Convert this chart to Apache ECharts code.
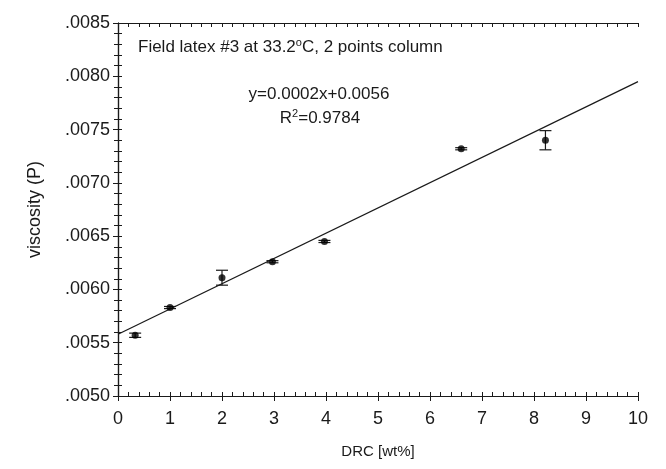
<!DOCTYPE html>
<html>
<head>
<meta charset="utf-8">
<script src="https://cdn.jsdelivr.net/npm/echarts@6/dist/echarts.min.js"></script>
<style>
  html, body { margin: 0; padding: 0; background: #fff; }
  #chart { width: 666px; height: 469px; }
</style>
</head>
<body>
<div id="chart"></div>
<script>
// viscosity vs DRC, field latex #3 — points with error bars plus fitted line

const drc = [0.33, 1.0, 2.0, 2.97, 3.97, 6.6, 8.22]
const viscosity = [0.00557, 0.00583, 0.00611, 0.00626, 0.00645, 0.00732, 0.0074]
const errLow = [0.00555, 0.00582, 0.00604, 0.00625, 0.00644, 0.00731, 0.00731]
const errHigh = [0.00559, 0.00584, 0.00618, 0.00627, 0.00646, 0.00733, 0.00749]
const fitX = [0, 10]
const fitY = [0.00558, 0.00795]

const FONT = 'Liberation Sans, Arial, sans-serif'
const INK = '#1a1a1a'

const chart = echarts.init(document.getElementById('chart'))

const yFmt = (v) => v.toFixed(4).replace(/^0/, '')

const grid = { left: 118, right: 28, top: 23, bottom: 73 }

const baseX = { type: 'value', min: 0, max: 10, interval: 1, splitLine: { show: false } }
const baseY = { type: 'value', min: 0.005, max: 0.0085, interval: 0.0005, splitLine: { show: false } }
const line = { show: true, lineStyle: { color: INK, width: 1.2 } }
const innerTicks = {
  axisLine: { show: false },
  axisLabel: { show: false },
  axisTick: { show: true, inside: true, length: 4, lineStyle: { color: INK } },
  minorTick: { show: true, splitNumber: 5, length: 4, lineStyle: { color: INK } },
}

chart.setOption({
  animation: false,
  backgroundColor: '#fff',
  grid,
  xAxis: [
    {
      ...baseX,
      position: 'bottom',
      axisLine: line,
      axisTick: { show: true, inside: false, length: 5, lineStyle: { color: INK } },
      axisLabel: { color: INK, fontFamily: FONT, fontSize: 18, margin: 14 },
      name: 'DRC [wt%]',
      nameLocation: 'middle',
      nameGap: 48,
      nameTextStyle: { color: INK, fontFamily: FONT, fontSize: 15 },
    },
    { ...baseX, position: 'bottom', ...innerTicks },
    { ...baseX, position: 'top', ...innerTicks, axisLine: line },
  ],
  yAxis: [
    {
      ...baseY,
      position: 'left',
      axisLine: line,
      axisTick: { show: true, inside: false, length: 5, lineStyle: { color: INK } },
      axisLabel: { color: INK, fontFamily: FONT, fontSize: 18, margin: 8, formatter: yFmt },
      name: 'viscosity (P)',
      nameLocation: 'middle',
      nameGap: 74,
      nameTextStyle: { color: INK, fontFamily: FONT, fontSize: 18 },
    },
    { ...baseY, position: 'left', ...innerTicks },
    { ...baseY, position: 'right', ...innerTicks, axisLine: line },
  ],
  graphic: [
    {
      type: 'text',
      left: 138,
      top: 37,
      style: {
        text: 'Field latex #3 at 33.2{sup|o}C, 2 points column',
        fill: INK,
        font: '17px ' + FONT,
        rich: { sup: { fontSize: 11, verticalAlign: 'top', padding: [0, 0, 9, 0], fill: INK } },
      },
    },
    {
      type: 'text',
      x: 319,
      y: 94,
      style: {
        text: 'y=0.0002x+0.0056',
        fill: INK,
        font: '17px ' + FONT,
        align: 'center',
        verticalAlign: 'middle',
      },
    },
    {
      type: 'text',
      x: 320,
      y: 118,
      style: {
        text: 'R{sup|2}=0.9784',
        fill: INK,
        font: '17px ' + FONT,
        align: 'center',
        verticalAlign: 'middle',
        rich: { sup: { fontSize: 11, padding: [0, 0, 9, 0], fill: INK } },
      },
    },
  ],
  series: [
    {
      type: 'line',
      data: fitX.map((x, i) => [x, fitY[i]]),
      symbol: 'none',
      lineStyle: { color: INK, width: 1.2 },
      z: 2,
    },
    {
      type: 'custom',
      data: drc.map((x, i) => [x, errLow[i], errHigh[i]]),
      renderItem(params, api) {
        const lo = api.coord([api.value(0), api.value(1)])
        const hi = api.coord([api.value(0), api.value(2)])
        const w = 6
        const style = { stroke: INK, lineWidth: 1.2 }
        return {
          type: 'group',
          children: [
            { type: 'line', shape: { x1: lo[0], y1: lo[1], x2: hi[0], y2: hi[1] }, style },
            { type: 'line', shape: { x1: lo[0] - w, y1: lo[1], x2: lo[0] + w, y2: lo[1] }, style },
            { type: 'line', shape: { x1: hi[0] - w, y1: hi[1], x2: hi[0] + w, y2: hi[1] }, style },
          ],
        }
      },
      z: 3,
    },
    {
      type: 'scatter',
      data: drc.map((x, i) => [x, viscosity[i]]),
      symbol: 'circle',
      symbolSize: 7,
      itemStyle: { color: '#000' },
      z: 4,
    },
  ],
})
</script>
</body>
</html>
